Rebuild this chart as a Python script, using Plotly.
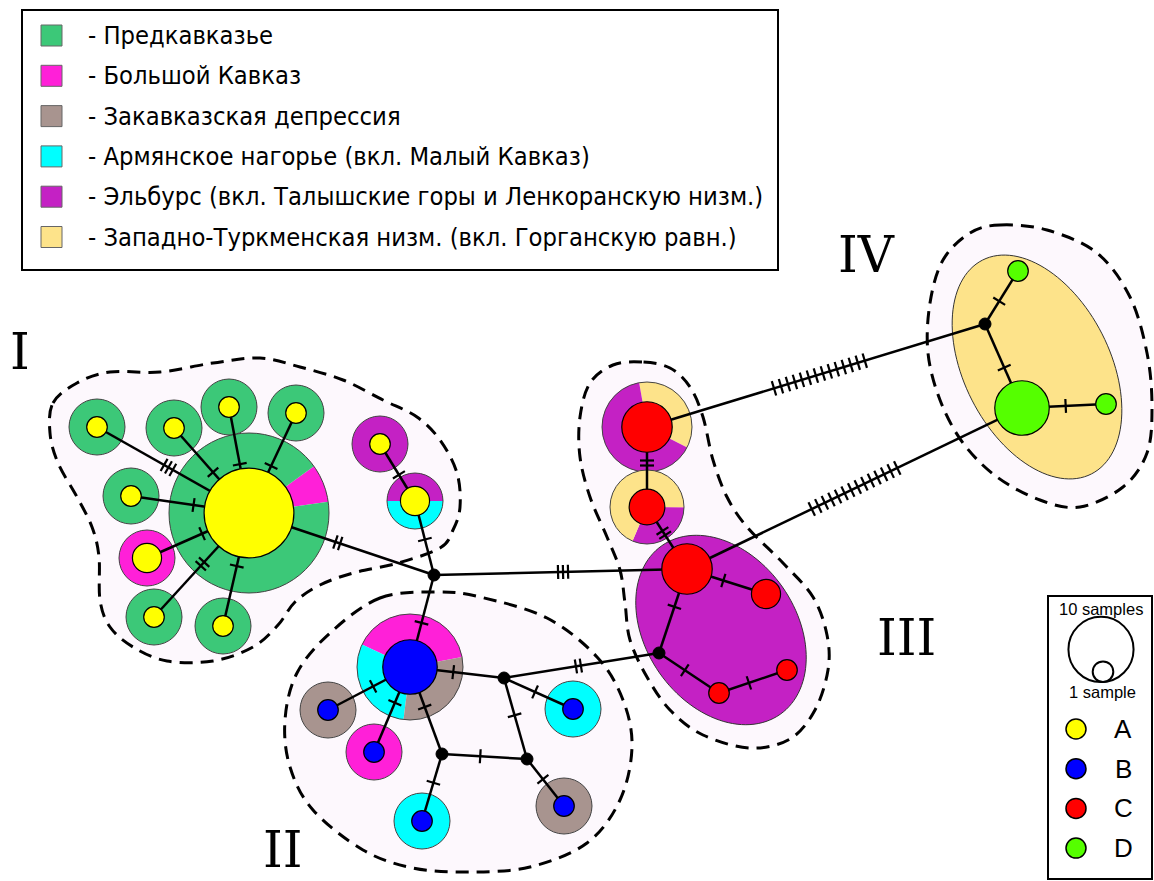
import math
import plotly.graph_objects as go

W, H = 1154, 881

# ---------------- data ----------------
region_names = [
    "Предкавказье",
    "Большой Кавказ",
    "Закавказская депрессия",
    "Армянское нагорье (вкл. Малый Кавказ)",
    "Эльбурс (вкл. Талышские горы и Ленкоранскую низм.)",
    "Западно-Туркменская низм. (вкл. Горганскую равн.)",
]
region_colors = ["#3CC878", "#FF20D8", "#A8948F", "#00FFFF", "#C421C4", "#FDE38A"]

hap_names = ["A", "B", "C", "D"]
hap_colors = ["#FFFF00", "#0000FF", "#FF0000", "#55FF00"]

group_labels = ["I", "II", "III", "IV"]

# haplotype network nodes (layout coordinates, sample counts, haplogroup)
node_ids = ["I0", "I1", "I2", "I3", "I4", "I5", "I6", "I7", "I8", "I9", "I10", "mv1",
            "II0", "II1", "II2", "II3", "II4", "II5", "mv2", "mv3", "mv4",
            "III0", "III1", "III2", "III3", "III4", "III5", "mv5",
            "IV0", "IV1", "IV2", "mv6"]
node_x = [249, 97, 174, 229, 296, 131, 147, 154, 223, 380, 415, 434,
          410, 328, 374, 422, 573, 564, 504, 442, 527,
          647, 647, 687, 766, 787, 719, 659,
          1022, 1018, 1106, 985]
node_y = [513, 427, 428, 407, 413, 496, 558, 617, 626, 444, 501, 575,
          667, 710, 752, 821, 709, 806, 678, 754, 759,
          427, 507, 569, 594, 670, 693, 653,
          408, 271, 404, 324]
node_hap = ["A"] * 11 + [None] + ["B"] * 6 + [None] * 3 + ["C"] * 6 + [None] + ["D"] * 3 + [None]
node_n = [19, 1, 1, 1, 1, 1, 2, 1, 1, 1, 2, 0,
          7, 1, 1, 1, 1, 1, 0, 0, 0,
          6, 3, 6, 2, 1, 1, 0,
          7, 1, 1, 0]

# regional composition shown as ring around haplotype (counts per region)
ring_nodes = ["I0", "I1", "I2", "I3", "I4", "I5", "I6", "I7", "I8", "I9", "I10",
              "II0", "II1", "II2", "II3", "II4", "II5", "III0", "III1"]
ring_counts = [
    [12, 1, 0, 0, 0, 0],
    [1, 0, 0, 0, 0, 0],
    [1, 0, 0, 0, 0, 0],
    [1, 0, 0, 0, 0, 0],
    [1, 0, 0, 0, 0, 0],
    [1, 0, 0, 0, 0, 0],
    [0, 1, 0, 0, 0, 0],
    [1, 0, 0, 0, 0, 0],
    [1, 0, 0, 0, 0, 0],
    [0, 0, 0, 0, 1, 0],
    [0, 0, 0, 1, 1, 0],
    [0, 4, 3, 3, 0, 0],
    [0, 0, 1, 0, 0, 0],
    [0, 1, 0, 0, 0, 0],
    [0, 0, 0, 1, 0, 0],
    [0, 0, 0, 1, 0, 0],
    [0, 0, 1, 0, 0, 0],
    [0, 0, 0, 0, 11, 6],
    [0, 0, 0, 0, 5, 11],
]

# edges: from, to, number of mutations, relative position of the mark group
edge_from = ["I0", "I0", "I0", "I0", "I0", "I0", "I0", "I0", "I9", "I10", "I0", "mv1", "mv1",
             "II0", "II0", "II0", "mv3", "II0", "mv2", "mv2", "mv3", "mv4", "mv2",
             "III0", "III1", "III2", "III2", "mv5", "III5", "III0", "III2", "mv6", "mv6", "IV0"]
edge_to = ["I1", "I2", "I3", "I4", "I5", "I6", "I7", "I8", "I10", "mv1", "mv1", "II0", "III2",
           "II1", "II2", "mv3", "II3", "mv2", "II4", "mv4", "mv4", "II5", "mv5",
           "III1", "III2", "III3", "mv5", "III5", "III4", "mv6", "IV0", "IV1", "IV0", "IV2"]
edge_mut = [3, 1, 1, 1, 1, 1, 2, 1, 1, 1, 2, 1, 3,
            1, 1, 1, 1, 1, 1, 1, 1, 1, 2,
            2, 2, 1, 1, 1, 1, 14, 14, 1, 1, 1]
edge_pos = [0.53, 0.48, 0.46, 0.47, 0.47, 0.46, 0.49, 0.47, 0.54, 0.52, 0.48, 0.52, 0.51,
            0.45, 0.42, 0.46, 0.43, 0.46, 0.45, 0.46, 0.45, 0.43, 0.48,
            0.45, 0.42, 0.46, 0.45, 0.43, 0.44, 0.51, 0.50, 0.43, 0.52, 0.52]

# ---------------- style ----------------
R1 = 10.3                      # radius of a 1-sample circle
RING_R_DEFAULT = 28
ring_style = {                 # node: (ring radius, start angle, region draw order)
    "I0": (80, 8, [1, 0]),
    "II0": (53, 11, [1, 3, 2]),
    "III0": (45, -27, [5, 4]),
    "III1": (37, -113, [4, 5]),
    "I10": (28, 0, [4, 3]),
}
FAINT = "#FDF8FD"

shapes = []
annotations = []

pos = {nid: (x, y) for nid, x, y in zip(node_ids, node_x, node_y)}


def node_radius(n):
    return R1 * math.sqrt(n)


def circle(cx, cy, r, fill, lc="black", lw=1.0):
    shapes.append(dict(type="circle", xref="x", yref="y", x0=cx - r, x1=cx + r,
                       y0=cy - r, y1=cy + r, fillcolor=fill,
                       line=dict(color=lc, width=lw), layer="above"))


def wedge(cx, cy, r, a0, a1, fill):
    n = max(4, int(abs(a1 - a0) / 2))
    pts = [(cx, cy)]
    for i in range(n + 1):
        a = math.radians(a0 + (a1 - a0) * i / n)
        pts.append((cx + r * math.cos(a), cy - r * math.sin(a)))
    d = "M " + " L ".join(f"{x:.2f},{y:.2f}" for x, y in pts) + " Z"
    shapes.append(dict(type="path", xref="x", yref="y", path=d, fillcolor=fill,
                       line=dict(width=0), layer="above"))


def closed_spline(pts):
    n = len(pts)
    d = f"M {pts[0][0]},{pts[0][1]}"
    for i in range(n):
        p0, p1, p2, p3 = pts[i - 1], pts[i], pts[(i + 1) % n], pts[(i + 2) % n]
        c1 = (p1[0] + (p2[0] - p0[0]) / 6, p1[1] + (p2[1] - p0[1]) / 6)
        c2 = (p2[0] - (p3[0] - p1[0]) / 6, p2[1] - (p3[1] - p1[1]) / 6)
        d += f" C {c1[0]:.1f},{c1[1]:.1f} {c2[0]:.1f},{c2[1]:.1f} {p2[0]},{p2[1]}"
    return d + " Z"


def ellipse_path(cx, cy, a, b, theta_deg, n=120):
    t = math.radians(theta_deg)
    pts = []
    for i in range(n):
        s = 2 * math.pi * i / n
        ex, ey = a * math.cos(s), b * math.sin(s)
        pts.append((cx + ex * math.cos(t) - ey * math.sin(t), cy + ex * math.sin(t) + ey * math.cos(t)))
    return "M " + " L ".join(f"{x:.2f},{y:.2f}" for x, y in pts) + " Z"


# ---- group outlines (light fill + dashed border) ----
outline_pts = [
    [(53, 403), (77, 383), (110, 372), (160, 372), (213, 363), (260, 358), (300, 367), (343, 380),
     (383, 400), (417, 417), (440, 440), (457, 473), (460, 507), (453, 530), (440, 548), (398, 563),
     (353, 573), (320, 585), (295, 602), (278, 625), (253, 647), (213, 661), (167, 661), (133, 647),
     (110, 627), (100, 600), (99, 557), (92, 527), (77, 497), (58, 463), (50, 433)],
    [(380, 598), (437, 592), (480, 597), (547, 618), (597, 657), (623, 700), (632, 747), (620, 800),
     (587, 843), (530, 867), (470, 872), (413, 868), (363, 850), (313, 810), (290, 767), (285, 720),
     (297, 673), (330, 633)],
    [(642, 362), (613, 365), (590, 383), (580, 417), (580, 457), (590, 497), (607, 537), (620, 570),
     (625, 603), (630, 640), (647, 677), (670, 710), (703, 735), (750, 748), (790, 739), (815, 710),
     (828, 670), (827, 635), (813, 597), (783, 563), (747, 527), (727, 497), (713, 460), (703, 417),
     (690, 387), (670, 368)],
    [(1000, 225), (1047, 230), (1097, 253), (1130, 297), (1147, 353), (1152, 407), (1147, 453),
     (1123, 487), (1080, 507), (1040, 500), (997, 477), (963, 443), (940, 400), (928, 353), (930, 303),
     (943, 260), (970, 233)],
]
for pts in outline_pts:
    shapes.append(dict(type="path", xref="x", yref="y", path=closed_spline(pts),
                       fillcolor=FAINT, line=dict(width=0), layer="below"))
for pts in outline_pts:
    shapes.append(dict(type="path", xref="x", yref="y", path=closed_spline(pts),
                       fillcolor="rgba(0,0,0,0)", line=dict(color="black", width=3, dash="13px,8px"),
                       layer="below"))

# ---- regional ellipses behind groups III and IV ----
shapes.append(dict(type="path", xref="x", yref="y", path=ellipse_path(721, 630, 103, 75, 55),
                   fillcolor=region_colors[4], line=dict(color="#333", width=1), layer="above"))
shapes.append(dict(type="path", xref="x", yref="y", path=ellipse_path(1037, 367, 120, 73, 63),
                   fillcolor=region_colors[5], line=dict(color="#333", width=1), layer="above"))

# ---- regional rings ----
for nid, counts in zip(ring_nodes, ring_counts):
    cx, cy = pos[nid]
    rr, start, order = ring_style.get(nid, (RING_R_DEFAULT, 90, list(range(len(region_names)))))
    total = sum(counts)
    used = [k for k in order if counts[k] > 0]
    if len(used) == 1:
        circle(cx, cy, rr, region_colors[used[0]], lc="#444", lw=1)
        continue
    a = start
    for k in used:
        span = 360 * counts[k] / total
        wedge(cx, cy, rr, a, a + span, region_colors[k])
        a += span
    circle(cx, cy, rr, "rgba(0,0,0,0)", lc="#444", lw=1)

# ---- edges ----
for f, t in zip(edge_from, edge_to):
    (x0, y0), (x1, y1) = pos[f], pos[t]
    shapes.append(dict(type="line", xref="x", yref="y", x0=x0, y0=y0, x1=x1, y1=y1,
                       line=dict(color="black", width=2.5), layer="above"))

# ---- mutation marks ----
for f, t, m, p in zip(edge_from, edge_to, edge_mut, edge_pos):
    (x0, y0), (x1, y1) = pos[f], pos[t]
    L = math.hypot(x1 - x0, y1 - y0)
    ux, uy = (x1 - x0) / L, (y1 - y0) / L
    nx, ny = -uy, ux
    sp = 7.3 if m > 3 else 5.0
    hl = 7.5 if m > 3 else 7.0
    for i in range(m):
        s = p * L + (i - (m - 1) / 2) * sp
        cx, cy = x0 + ux * s, y0 + uy * s
        shapes.append(dict(type="line", xref="x", yref="y",
                           x0=cx - nx * hl, y0=cy - ny * hl, x1=cx + nx * hl, y1=cy + ny * hl,
                           line=dict(color="black", width=2.2), layer="above"))

# ---- haplotype circles and median vectors ----
for nid, x, y, h, n in zip(node_ids, node_x, node_y, node_hap, node_n):
    if h is None:
        circle(x, y, 6, "black", lc="black", lw=1)
    else:
        circle(x, y, node_radius(n), hap_colors[hap_names.index(h)], lc="black", lw=1.2)

# ---- region legend ----
shapes.append(dict(type="rect", xref="x", yref="y", x0=22, y0=10, x1=778, y1=270,
                   fillcolor="white", line=dict(color="black", width=2), layer="above"))
for i, (name, col) in enumerate(zip(region_names, region_colors)):
    yc = 35.5 + i * 40.3
    shapes.append(dict(type="rect", xref="x", yref="y", x0=41, y0=yc - 10.5, x1=62, y1=yc + 10.5,
                       fillcolor=col, line=dict(color="#666", width=1), layer="above"))
    annotations.append(dict(x=86, y=yc, xref="x", yref="y", text="- " + name, showarrow=False,
                            xanchor="left", yanchor="middle",
                            font=dict(family="DejaVu Sans Condensed, DejaVu Sans", size=25.3, color="black")))

# ---- group labels ----
label_xy = [(20, 352), (283, 850), (906, 638), (866, 255)]
for lab, (lx, ly) in zip(group_labels, label_xy):
    annotations.append(dict(x=lx, y=ly, xref="x", yref="y", text=lab, showarrow=False,
                            xanchor="center", yanchor="middle",
                            font=dict(family="DejaVu Serif", size=50, color="black")))

# ---- size / haplogroup legend ----
shapes.append(dict(type="rect", xref="x", yref="y", x0=1048, y0=596, x1=1152, y1=879,
                   fillcolor="white", line=dict(color="black", width=2), layer="above"))
circle(1101, 682 - node_radius(10), node_radius(10), "white", lc="black", lw=2)
circle(1103, 682 - node_radius(1), node_radius(1), "white", lc="black", lw=2)
annotations.append(dict(x=1101, y=609, xref="x", yref="y", text="10 samples", showarrow=False,
                        font=dict(family="Liberation Sans", size=16.5, color="black")))
annotations.append(dict(x=1102, y=692, xref="x", yref="y", text="1 sample", showarrow=False,
                        font=dict(family="Liberation Sans", size=16.5, color="black")))
for i, (hn, hc) in enumerate(zip(hap_names, hap_colors)):
    yc = 729 + i * 39.7
    circle(1076, yc, 10, hc, lc="black", lw=1.5)
    annotations.append(dict(x=1123, y=yc, xref="x", yref="y", text=hn, showarrow=False,
                            xanchor="center", yanchor="middle",
                            font=dict(family="Liberation Sans", size=26, color="black")))

fig = go.Figure()
fig.add_trace(go.Scatter(x=[0, W], y=[0, H], mode="markers", marker=dict(opacity=0),
                         hoverinfo="skip", showlegend=False))
fig.update_layout(
    width=W, height=H, margin=dict(l=0, r=0, t=0, b=0),
    paper_bgcolor="white", plot_bgcolor="white",
    xaxis=dict(range=[0, W], visible=False, fixedrange=True),
    yaxis=dict(range=[H, 0], visible=False, fixedrange=True),
    shapes=shapes, annotations=annotations, showlegend=False,
)
fig.write_html("out.html")
